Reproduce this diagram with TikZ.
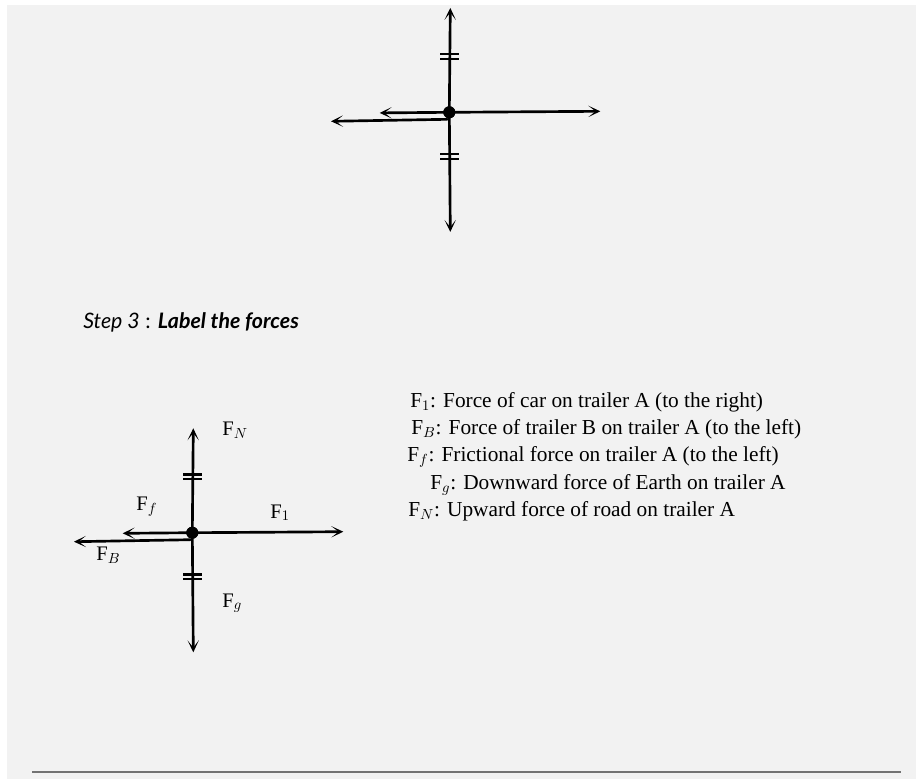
\documentclass[tikz,border=0pt]{standalone}
\usepackage{fontspec}
\setmainfont{Liberation Serif}
\newfontfamily\stepfont{Lato}
\usetikzlibrary{arrows.meta}

\tikzset{
  force/.style={line width=2pt, line cap=round,
    -{Stealth[length=9pt,width=8.5pt,inset=5.5pt]}},
  tickmark/.style={line width=1.6pt},
  blob/.style={circle, fill=black, inner sep=0pt, minimum size=9pt},
  flabel/.style={font=\fontsize{15.5}{18}\selectfont, inner sep=0pt, anchor=base west},
  listline/.style={font=\fontsize{16}{19}\selectfont, inner sep=0pt, anchor=base west},
  pics/fbd/.style={code={
    \node[blob] (-c) at (0,0) {};
    \coordinate (-n) at (1,-104.4);
    \coordinate (-s) at (1,119.6);
    \coordinate (-e) at (151,-1);
    \coordinate (-w) at (-69.6,0.6);
    \coordinate (-bs) at (-2,7);
    \coordinate (-bw) at (-118.3,9);
    \draw[force] (-c.center) -- (-n);
    \draw[force] (-c.center) -- (-s);
    \draw[force] (-c.center) -- (-e);
    \draw[force] (-c.center) -- (-w);
    \draw[force] (-bs) -- (-bw);
    % equal-magnitude marks
    \draw[tickmark] (-9,-58.2) -- (10,-58.2) (-9,-53.6) -- (10,-53.6);
    \draw[tickmark] (-9,41.8) -- (10,41.8) (-9,46.4) -- (10,46.4);
    \node[blob] at (0,0) {};
  }}
}

\begin{document}
\begin{tikzpicture}[x=0.75pt, y=-0.75pt]
  \useasboundingbox (0,0) rectangle (916,779);
  \fill[white] (0,0) rectangle (916,779);
  \fill[black!5] (6.5,5) rectangle (916,779);
  \draw[line width=1.5pt, black!55] (32,772) -- (901,772);

  % step 2 sketch
  \pic (top) at (449.3,112.3) {fbd};

  \node[inner sep=0pt, anchor=base west, font=\stepfont\fontsize{16}{19}\selectfont] (step) at (83,328)
    {\textit{Step 3} : \textbf{\textit{Label the forces}}};

  % step 3 sketch
  \pic (bot) at (192.3,532.7) {fbd};
  \node[flabel] (lN) at (222,435) {F$_N$};
  \node[flabel] (lf) at (136,510) {F$_f$};
  \node[flabel] (l1) at (270,518) {F$_1$};
  \node[flabel] (lB) at (96,560) {F$_B$};
  \node[flabel] (lg) at (222,607) {F$_g$};

  \node[listline] (t1) at (410,407) {F$_1$: Force of car on trailer A (to the right)};
  \node[listline] (tB) at (411,434) {F$_B$: Force of trailer B on trailer A (to the left)};
  \node[listline] (tf) at (407,461.5) {F$_f$: Frictional force on trailer A (to the left)};
  \node[listline] (tg) at (430,489) {F$_g$: Downward force of Earth on trailer A};
  \node[listline] (tN) at (408,516) {F$_N$: Upward force of road on trailer A};
\end{tikzpicture}
\end{document}
